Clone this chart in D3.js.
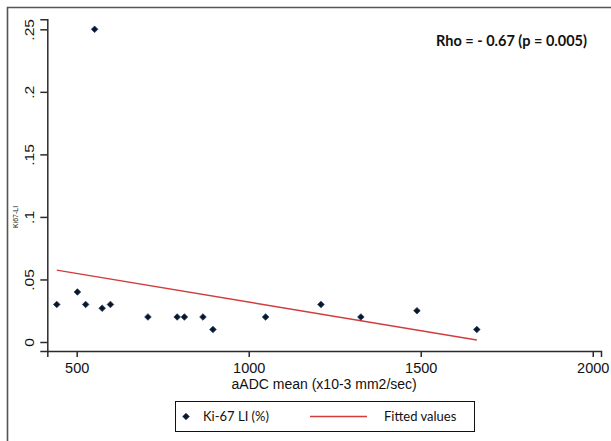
<!DOCTYPE html>
<html>
<head>
<meta charset="utf-8">
<script src="https://cdn.jsdelivr.net/npm/d3@7"></script>
<style>
  body { margin: 0; background: #fff; }
  svg { display: block; }
  .tickText { font-family: "Liberation Sans", Arial, sans-serif; fill: #111; }
  .labelText { font-family: Lato, "Open Sans", sans-serif; fill: #111; }
</style>
</head>
<body>
<svg id="chart" width="611" height="441"></svg>
<script>
// values
var aadc = [442, 502, 526, 552, 574, 598, 707, 792, 813, 867, 896, 1049, 1210, 1326, 1489, 1663];
var ki67 = [0.03, 0.04, 0.03, 0.25, 0.027, 0.03, 0.02, 0.02, 0.02, 0.02, 0.01, 0.02, 0.03, 0.02, 0.025, 0.01];
var xTicks = [500, 1000, 1500, 2000];
var yTicks = [0, 0.05, 0.1, 0.15, 0.2, 0.25];
var yTickLabels = ["0", ".05", ".1", ".15", ".2", ".25"];
var legendLabels = ["Ki-67 LI (%)", "Fitted values"];
var xTitle = "aADC mean (x10-3 mm2/sec)";
var yTitle = "Ki67-LI";
var note = "Rho = - 0.67 (p = 0.005)";

var points = aadc.map(function(d, i) { return {x: d, y: ki67[i]}; });

// least squares line for "Fitted values"
function fitLine(pts){
    var mx = d3.mean(pts, function(d) { return d.x; });
    var my = d3.mean(pts, function(d) { return d.y; });
    var sxy = d3.sum(pts, function(d) { return (d.x - mx) * (d.y - my); });
    var sxx = d3.sum(pts, function(d) { return (d.x - mx) * (d.x - mx); });
    var b = sxy / sxx, a = my - b * mx;
    var ext = d3.extent(pts, function(d) { return d.x; });
    return ext.map(function(x) { return {x: x, y: a + b * x}; });
}

var svg = d3.select("#chart");
var markerColor = "#0b1626";
var fitColor = "#d23c3c";
var axisColor = "#2b2b2b";

var x = d3.scaleLinear().domain([414.5, 2024]).range([47.3, 601]);
var y = d3.scaleLinear().domain([-0.0072, 0.258]).range([351, 19.3]);

// outer frame (top and left edges only)
svg.append("path")
    .attr("d", "M7.5,441 L7.5,7.5 L611,7.5")
    .attr("fill", "none")
    .attr("stroke", "#555")
    .attr("stroke-width", 1.6);

// y axis
var yAxis = svg.append("g")
    .attr("transform", "translate(" + x.range()[0] + ",0)")
    .call(d3.axisLeft(y).tickValues(yTicks).tickSizeOuter(0).tickSize(7)
        .tickFormat(function(d, i) { return yTickLabels[i]; }));

yAxis.selectAll("text")
    .attr("class", "tickText")
    .attr("x", 0)
    .attr("dy", 0)
    .attr("text-anchor", "middle")
    .attr("font-size", 12.5)
    .attr("transform", "translate(-13.5,0) rotate(-90) scale(1.25,1)");

// x axis
var xAxis = svg.append("g")
    .attr("transform", "translate(0," + y.range()[0] + ")")
    .call(d3.axisBottom(x).tickValues(xTicks).tickSizeOuter(0).tickSize(6).tickPadding(6)
        .tickFormat(d3.format("d")));

xAxis.selectAll("text")
    .attr("class", "tickText")
    .attr("font-size", 14.5);

svg.selectAll(".domain, .tick line")
    .attr("stroke", axisColor)
    .attr("stroke-width", 1.5);

// axis titles
svg.append("text")
    .attr("class", "tickText")
    .attr("x", (x.range()[0] + x.range()[1]) / 2)
    .attr("y", 389)
    .attr("text-anchor", "middle")
    .attr("font-size", 14)
    .text(xTitle);

svg.append("text")
    .attr("class", "tickText")
    .attr("transform", "translate(18,217) rotate(-90)")
    .attr("text-anchor", "middle")
    .attr("font-size", 7)
    .text(yTitle);

// fitted line
var line = d3.line()
    .x(function(d) { return x(d.x); })
    .y(function(d) { return y(d.y); });

svg.append("path")
    .datum(fitLine(points))
    .attr("d", line)
    .attr("fill", "none")
    .attr("stroke", fitColor)
    .attr("stroke-width", 1.4);

// data markers, small square turned into a diamond
var diamond = d3.symbol().type(d3.symbolSquare).size(22);

svg.selectAll(".dataPoint")
    .data(points)
    .enter().append("path")
    .attr("class", "dataPoint")
    .attr("d", diamond)
    .attr("transform", function(d) { return "translate(" + x(d.x) + "," + y(d.y) + ") rotate(45)"; })
    .attr("fill", markerColor)
    .attr("stroke", "#1d3a66")
    .attr("stroke-width", 0.7);

// correlation note
svg.append("text")
    .attr("class", "labelText")
    .attr("x", 436)
    .attr("y", 46)
    .attr("font-size", 14.5)
    .attr("font-weight", "bold")
    .text(note);

// legend
var legend = svg.append("g");

legend.append("rect")
    .attr("x", 175.5)
    .attr("y", 401.5)
    .attr("width", 299)
    .attr("height", 30)
    .attr("fill", "#fff")
    .attr("stroke", "#111")
    .attr("stroke-width", 1);

legend.append("path")
    .attr("d", diamond)
    .attr("transform", "translate(186,416.5) rotate(45)")
    .attr("fill", markerColor)
    .attr("stroke", "#1d3a66")
    .attr("stroke-width", 0.7);

legend.append("line")
    .attr("x1", 310).attr("x2", 367)
    .attr("y1", 416.5).attr("y2", 416.5)
    .attr("stroke", fitColor)
    .attr("stroke-width", 1.4);

legend.selectAll(".legendText")
    .data(legendLabels)
    .enter().append("text")
    .attr("class", "legendText labelText")
    .attr("x", function(d, i) { return i == 0 ? 203 : 384; })
    .attr("y", 421)
    .attr("font-size", 13)
    .text(function(d) { return d; });
</script>
</body>
</html>
